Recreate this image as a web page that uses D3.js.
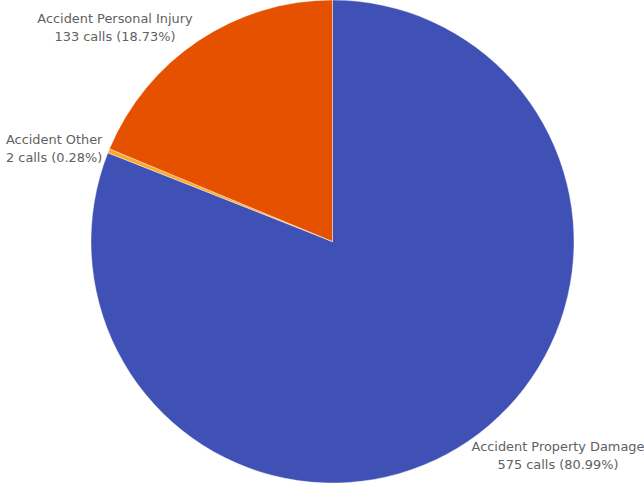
<!DOCTYPE html>
<html>
<head>
<meta charset="utf-8">
<script src="https://cdn.jsdelivr.net/npm/d3@7"></script>
<style>
  html, body { margin: 0; padding: 0; background: #fff; }
  svg { display: block; }
  text { font-family: "DejaVu Sans", Verdana, sans-serif; font-size: 12.9px; fill: #616161; }
</style>
</head>
<body>
<svg id="chart" width="644" height="484"></svg>
<script>
// Call counts per accident type, in drawing order (clockwise from 12 o'clock)
const categories = ["Accident Property Damage", "Accident Other", "Accident Personal Injury"];
const calls = [575, 2, 133];
const colors = ["#3f51b5", "#ffa726", "#e65100"];

const width = 644, height = 484;
const cx = 332.5, cy = 241.5, radius = 241.5;

const svg = d3.select("#chart");
const total = d3.sum(calls);
const data = categories.map((c, i) => ({ name: c, value: calls[i], color: colors[i] }));

const pie = d3.pie().value(d => d.value).sort(null);
const arc = d3.arc().innerRadius(0).outerRadius(radius);
const arcs = pie(data);

const g = svg.append("g").attr("transform", `translate(${cx},${cy})`);

g.selectAll("path.slice")
  .data(arcs)
  .join("path")
  .attr("class", "slice")
  .attr("d", arc)
  .attr("fill", d => d.data.color)
  .attr("stroke", "#ffffff")
  .attr("stroke-width", 0.4);

// Label placement: anchor point and alignment per slice
const labelLayout = {
  "Accident Property Damage": { x: 558, y: 451, anchor: "middle" },
  "Accident Other": { x: 6, y: 144, anchor: "start" },
  "Accident Personal Injury": { x: 115, y: 23, anchor: "middle" }
};

const fmtPct = v => (v / total * 100).toFixed(2) + "%";

arcs.forEach(a => {
  const L = labelLayout[a.data.name];
  const t = svg.append("text")
    .attr("x", L.x)
    .attr("y", L.y)
    .attr("text-anchor", L.anchor);
  t.append("tspan").attr("x", L.x).text(a.data.name);
  t.append("tspan").attr("x", L.x).attr("dy", 17.5)
    .text(`${a.data.value} calls (${fmtPct(a.data.value)})`);
});
</script>
</body>
</html>
